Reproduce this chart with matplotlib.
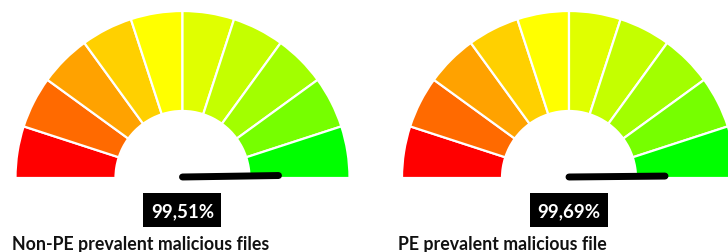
import numpy as np
import matplotlib.pyplot as plt
from matplotlib.patches import Wedge, Rectangle

# gauge data
TITLES = ["Non-PE prevalent malicious files", "PE prevalent malicious file"]
VALUES = [99.51, 99.69]          # percent
LABELS = ["99,51%", "99,69%"]
SEGMENT_COLORS = ["#FF0000", "#FF6A00", "#FFA200", "#FFD000", "#FFFF00",
                  "#E0FF00", "#C4FF00", "#A2FF00", "#76FF00", "#00FF00"]

# layout in pixels
W, H = 728, 253
CENTERS_X = [182.5, 569]
CENTER_Y = 179
R_OUT, R_IN = 167, 67
NEEDLE_LEN = 96

fig = plt.figure(figsize=(W / 100, H / 100), dpi=100)
ax = fig.add_axes([0, 0, 1, 1])
ax.set_xlim(0, W)
ax.set_ylim(H, 0)
ax.axis("off")

n = len(SEGMENT_COLORS)
step = 180 / n
for cx, val, lab, title in zip(CENTERS_X, VALUES, LABELS, TITLES):
    # segments go from left (180 deg) to right (0 deg); y axis is inverted
    for i, col in enumerate(SEGMENT_COLORS):
        a1 = 180 + i * step
        a2 = 180 + (i + 1) * step
        ax.add_patch(Wedge((cx, CENTER_Y), R_OUT, a1, a2, width=R_OUT - R_IN,
                           facecolor=col, edgecolor="white", linewidth=1.6))
    # needle
    ang = np.deg2rad(180 * (1 - val / 100))
    ax.plot([cx, cx + NEEDLE_LEN * np.cos(ang)],
            [CENTER_Y - 1, CENTER_Y - 1 - NEEDLE_LEN * np.sin(ang)],
            color="black", linewidth=5, solid_capstyle="round", zorder=5)
    # value label
    ax.add_patch(Rectangle((cx - 39.5, 194), 78, 34, facecolor="black",
                           edgecolor="none"))
    ax.text(cx, 212, lab, color="white", fontsize=13.5, fontweight="bold",
            family="Lato", ha="center", va="center")
    ax.text(cx - 171, 245, title, color="#111111", fontsize=12.8,
            fontweight="bold", family="Lato", ha="left", va="center")

fig.savefig("out.png", dpi=100, facecolor="white")
